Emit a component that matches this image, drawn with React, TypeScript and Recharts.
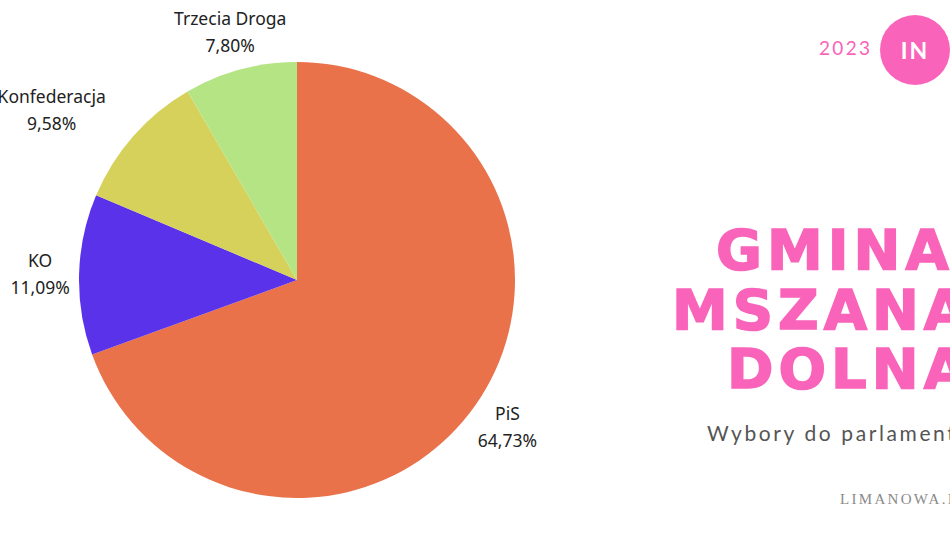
import { PieChart, Pie, Cell } from "recharts";

const parties = ["PiS", "KO", "Konfederacja", "Trzecia Droga"];
const shares = [64.73, 11.09, 9.58, 7.8];
const colors = ["#E9724B", "#5A32E9", "#D6D15B", "#B5E485"];

const data = parties.map((name, i) => ({ name, value: shares[i] }));

const titleLines = ["GMINA", "MSZANA", "DOLNA"];

const PINK = "#F964BA";
const RAD = Math.PI / 180;
const LABEL_SIZE = 17.5;

// label sits on the mid angle; if its box would touch the pie it is slid off the edge
function renderLabel(props: any) {
  const { cx, cy, midAngle, outerRadius, index } = props;
  const name = parties[index];
  const pct = shares[index].toFixed(2).replace(".", ",") + "%";
  const hw = (Math.max(name.length, pct.length) * LABEL_SIZE * 0.5) / 2;
  const hh = 27;
  const ux = Math.cos(-midAngle * RAD);
  const uy = Math.sin(-midAngle * RAD);
  let bx = ux * (outerRadius + 39);
  let by = uy * (outerRadius + 39);
  const px = Math.max(bx - hw, Math.min(0, bx + hw));
  const py = Math.max(by - hh, Math.min(0, by + hh));
  if (Math.hypot(px, py) < outerRadius + 2) {
    if (uy > 0) by += hh;
    else bx += Math.sign(ux) * hw;
  }
  const x = cx + bx;
  const y = cy + by;
  return (
    <text x={x} y={y} textAnchor="middle" fill="#222" fontSize={LABEL_SIZE} fontFamily="'Noto Sans', sans-serif">
      <tspan x={x} dy={-7}>{name}</tspan>
      <tspan x={x} dy={27}>{pct}</tspan>
    </text>
  );
}

const titleLeft = [716, 672, 727];

export default function App() {
  return (
    <div style={{ position: "absolute", left: 0, top: 0, width: 950, height: 540, overflow: "hidden", background: "#fff" }}>
      <PieChart width={950} height={540} margin={{ top: 0, right: 0, bottom: 0, left: 0 }}>
        <Pie
          data={data}
          dataKey="value"
          nameKey="name"
          cx={297}
          cy={280}
          outerRadius={218}
          startAngle={90}
          endAngle={-270}
          stroke="none"
          label={renderLabel}
          labelLine={false}
          isAnimationActive={false}
        >
          {data.map((d, i) => (
            <Cell key={d.name} fill={colors[i]} />
          ))}
        </Pie>
      </PieChart>

      <div style={{ position: "absolute", left: 819, top: 36, color: PINK, fontFamily: "Lato, sans-serif", fontSize: 19, letterSpacing: 2.3 }}>
        2023
      </div>
      <div style={{ position: "absolute", left: 880, top: 15, width: 70, height: 70, borderRadius: "50%", background: PINK, color: "#fff", fontFamily: "Lato, sans-serif", fontWeight: 700, fontSize: 23, letterSpacing: 2, display: "flex", alignItems: "center", justifyContent: "center" }}>
        IN
      </div>
      {titleLines.map((t, i) => (
        <div
          key={t}
          style={{ position: "absolute", left: titleLeft[i], top: 220 + i * 59.5, color: PINK, fontFamily: "'DejaVu Sans', sans-serif", fontWeight: 700, fontSize: 56, lineHeight: "59px", letterSpacing: 5, whiteSpace: "nowrap", WebkitTextStroke: `1.6px ${PINK}` }}
        >
          {t}
        </div>
      ))}
      <div style={{ position: "absolute", left: 707, top: 420, color: "#555", fontFamily: "Lato, sans-serif", fontSize: 21, letterSpacing: 2.6, whiteSpace: "nowrap" }}>
        Wybory do parlamentu
      </div>
      <div style={{ position: "absolute", left: 840, top: 491, color: "#8a8a8a", fontFamily: "'Liberation Serif', serif", fontSize: 15, letterSpacing: 2.3, whiteSpace: "nowrap" }}>
        LIMANOWA.IN
      </div>
    </div>
  );
}
